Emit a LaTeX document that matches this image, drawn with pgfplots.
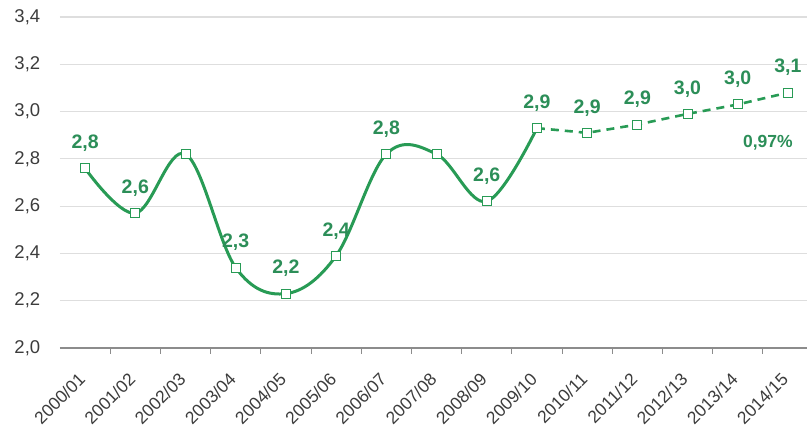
\documentclass[border=0pt]{standalone}
\usepackage{pgfplots}
\pgfplotsset{compat=1.18}
\usepackage{pgfplotstable}
\usepackage{fontspec}
\setmainfont{Liberation Sans}

\definecolor{lgreen}{RGB}{40,155,85}
\definecolor{labgreen}{RGB}{44,142,88}
\definecolor{tickgray}{RGB}{60,60,60}
\definecolor{axgray}{RGB}{140,140,140}
\definecolor{gridgray}{RGB}{222,222,222}

% observed values (lab = 1: value label shown)
\pgfplotstableread{
x y lab
0 2.76 1
1 2.57 1
2 2.82 0
3 2.34 1
4 2.23 1
5 2.39 1
6 2.82 1
7 2.82 0
8 2.62 1
9 2.93 1
}\observed

% projected values
\pgfplotstableread{
x y lab
9 2.93 0
10 2.91 1
11 2.945 1
12 2.99 1
13 3.03 1
14 3.08 1
}\projected

\begin{document}
\begin{tikzpicture}
\begin{axis}[
  at={(0,0)}, anchor=south west,
  scale only axis, width=747pt, height=331pt,
  xmin=-0.5, xmax=14.38, ymin=2, ymax=3.4,
  separate axis lines,
  axis x line*=bottom, axis y line*=left,
  x axis line style={draw=axgray, line width=2.5pt},
  y axis line style={draw=none},
  ytick={2.0,2.2,2.4,2.6,2.8,3.0,3.2,3.4},
  ymajorgrids,
  grid style={draw=gridgray, line width=1.2pt},
  ytick style={draw=none},
  yticklabel style={font=\fontsize{18.5}{18.5}\selectfont, color=tickgray, xshift=-12pt},
  /pgf/number format/assume math mode=true,
  /pgf/number format/use comma,
  /pgf/number format/fixed,
  /pgf/number format/fixed zerofill,
  /pgf/number format/precision=1,
  xtick={0,...,14},
  xticklabels={2000/01,2001/02,2002/03,2003/04,2004/05,2005/06,2006/07,2007/08,
               2008/09,2009/10,2010/11,2011/12,2012/13,2013/14,2014/15},
  xtick style={draw=none},
  minor xtick={0.5,1.5,...,13.5},
  minor x tick style={draw=axgray, line width=1pt},
  minor tick length=6pt,
  tick align=outside,
  xticklabel style={font=\fontsize{17.5}{17.5}\selectfont, color=tickgray,
                    inner sep=0pt, xshift=-3pt, yshift=-24pt, rotate=45, anchor=east},
  clip=false,
  mark size=4.5pt,
  vlabel/.style={draw=none, mark=none, point meta=y,
    x filter/.expression={\thisrow{lab}>0 ? x : nan},
    unbounded coords=discard,
    nodes near coords,
    every node near coord/.append style={font=\bfseries\fontsize{19.5}{19.5}\selectfont,
                    color=labgreen, anchor=center, yshift=25pt}},
]
\addplot[lgreen, line width=3pt, smooth, tension=0.6,
         mark=square*, mark options={solid, fill=white, draw=lgreen, line width=1pt}]
  table[x=x, y=y] {\observed};
\addplot[lgreen, line width=2.6pt, dash pattern=on 8pt off 6pt,
         mark=square*, mark options={solid, fill=white, draw=lgreen, line width=1pt}]
  table[x=x, y=y] {\projected};
% value labels, rounded to one decimal
\addplot[vlabel] table[x=x, y=y] {\observed};
\addplot[vlabel] table[x=x, y=y] {\projected};
\node[color=labgreen, font=\bfseries\fontsize{17.5}{17.5}\selectfont] at (axis cs:13.6,2.87) {0,97\%};
\end{axis}
\pgfresetboundingbox
\useasboundingbox (-60pt,-87pt) rectangle (747pt,348pt);
\end{tikzpicture}
\end{document}
